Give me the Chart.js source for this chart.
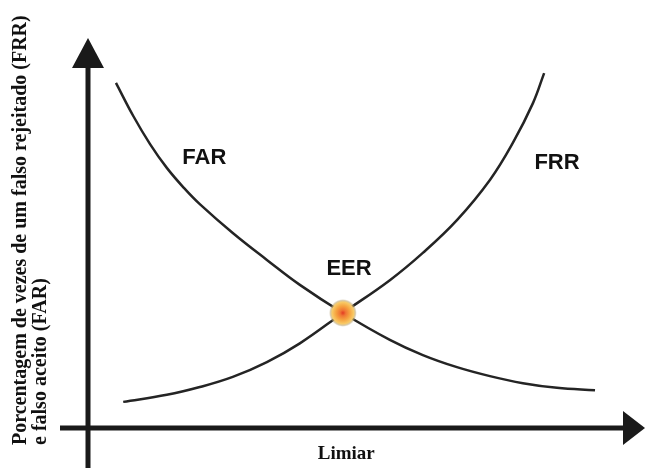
<!DOCTYPE html>
<html>
<head>
<meta charset="utf-8">
<script src="https://cdn.jsdelivr.net/npm/chart.js@4.4.1/dist/chart.umd.min.js"></script>
<style>
    body { margin: 0; background: #fff; }
    canvas { display: block; }
</style>
</head>
<body>
<canvas id="myChart" width="647" height="468"></canvas>
<script>
// DATA (threshold on x, percentage on y, both 0-100)
const farX = [5.0, 8.1, 11.1, 14.1, 17.2, 20.0, 25.9, 32.0, 37.9, 45.6, 54.0, 59.9, 66.0, 71.9, 77.8, 83.9, 90.7];
const farY = [88.5, 80.0, 72.8, 66.7, 61.5, 57.4, 50.0, 43.1, 36.7, 29.5, 22.6, 18.7, 15.6, 13.3, 11.5, 10.3, 9.7];

const frrX = [6.3, 14.1, 20.0, 25.9, 32.0, 37.9, 45.6, 54.0, 59.9, 66.0, 71.9, 76.0, 79.6, 81.6];
const frrY = [6.7, 8.5, 10.5, 13.1, 16.9, 21.7, 29.5, 37.9, 44.9, 53.3, 63.6, 73.1, 83.3, 91.0];

const eerPoint = [45.6, 29.5];

const seriesNames = ['FAR', 'FRR', 'EER'];
const xTitle = 'Limiar';
const yTitle = ['Porcentagem de vezes de um falso rejeitado (FRR)', 'e falso aceito (FAR)'];

// where the curve names sit, in data units
const nameSpots = [[20.8, 69.2], [83.9, 67.9], [46.7, 40.8]];

function toPoints(xs, ys) {
    return xs.map((x, i) => ({ x: x, y: ys[i] }));
}

// AXES WITH ARROWS, LABELS AND THE EER DOT
const diagram = {
    id: 'diagram',
    afterDatasetsDraw(chart) {
        const ctx = chart.ctx;
        const sx = chart.scales.x;
        const sy = chart.scales.y;
        const x0 = sx.getPixelForValue(0);
        const y0 = sy.getPixelForValue(0);
        const yTop = sy.getPixelForValue(100);
        const xEnd = sx.getPixelForValue(100);

        ctx.save();
        ctx.strokeStyle = '#1a1a1a';
        ctx.fillStyle = '#1a1a1a';
        ctx.lineWidth = 5;

        // y axis
        ctx.beginPath();
        ctx.moveTo(x0, chart.height);
        ctx.lineTo(x0, yTop + 28);
        ctx.stroke();
        ctx.beginPath();
        ctx.moveTo(x0, yTop);
        ctx.lineTo(x0 - 16, yTop + 30);
        ctx.lineTo(x0 + 16, yTop + 30);
        ctx.closePath();
        ctx.fill();

        // x axis
        ctx.beginPath();
        ctx.moveTo(60, y0);
        ctx.lineTo(xEnd - 22, y0);
        ctx.stroke();
        ctx.beginPath();
        ctx.moveTo(xEnd - 2, y0);
        ctx.lineTo(xEnd - 24, y0 - 17);
        ctx.lineTo(xEnd - 24, y0 + 17);
        ctx.closePath();
        ctx.fill();

        // EER glow
        const ex = sx.getPixelForValue(eerPoint[0]);
        const ey = sy.getPixelForValue(eerPoint[1]);
        const g = ctx.createRadialGradient(ex, ey, 0, ex, ey, 14);
        g.addColorStop(0, '#e33a22');
        g.addColorStop(0.2, '#ef7534');
        g.addColorStop(0.5, '#f6a440');
        g.addColorStop(0.78, '#f8cb68');
        g.addColorStop(0.9, 'rgba(190,165,110,0.55)');
        g.addColorStop(1, 'rgba(200,190,170,0)');
        ctx.fillStyle = g;
        ctx.beginPath();
        ctx.arc(ex, ey, 14, 0, Math.PI * 2);
        ctx.fill();

        // curve names
        ctx.fillStyle = '#111';
        ctx.font = 'bold 22px "Liberation Sans", Arial, sans-serif';
        ctx.textAlign = 'center';
        ctx.textBaseline = 'middle';
        seriesNames.forEach((name, i) => {
            ctx.fillText(name, sx.getPixelForValue(nameSpots[i][0]), sy.getPixelForValue(nameSpots[i][1]));
        });

        // axis titles
        ctx.font = 'bold 19px "Liberation Serif", "Times New Roman", serif';
        ctx.textBaseline = 'alphabetic';
        ctx.fillText(xTitle, sx.getPixelForValue(46.2), 459);

        ctx.font = 'bold 20px "Liberation Serif", "Times New Roman", serif';
        ctx.textAlign = 'left';
        yTitle.forEach((line, i) => {
            ctx.save();
            ctx.translate(26 + i * 20, 445);
            ctx.rotate(-Math.PI / 2);
            ctx.fillText(line, 0, 0);
            ctx.restore();
        });
        ctx.restore();
    }
};

const ctx = document.getElementById('myChart').getContext('2d');

const myChart = new Chart(ctx, {
    type: 'scatter',
    data: {
        datasets: [{
            label: seriesNames[0],
            data: toPoints(farX, farY),
            showLine: true,
            borderColor: '#242424',
            borderWidth: 2.5,
            pointRadius: 0,
            tension: 0.4
        },
        {
            label: seriesNames[1],
            data: toPoints(frrX, frrY),
            showLine: true,
            borderColor: '#242424',
            borderWidth: 2.5,
            pointRadius: 0,
            tension: 0.4
        }]
    },
    options: {
        responsive: false,
        animation: false,
        layout: {
            padding: { left: 88, right: 0, top: 38, bottom: 40 }
        },
        plugins: {
            legend: { display: false },
            tooltip: { enabled: false }
        },
        scales: {
            x: { type: 'linear', min: 0, max: 100, display: false },
            y: { type: 'linear', min: 0, max: 100, display: false }
        }
    },
    plugins: [diagram]
});
</script>
</body>
</html>
